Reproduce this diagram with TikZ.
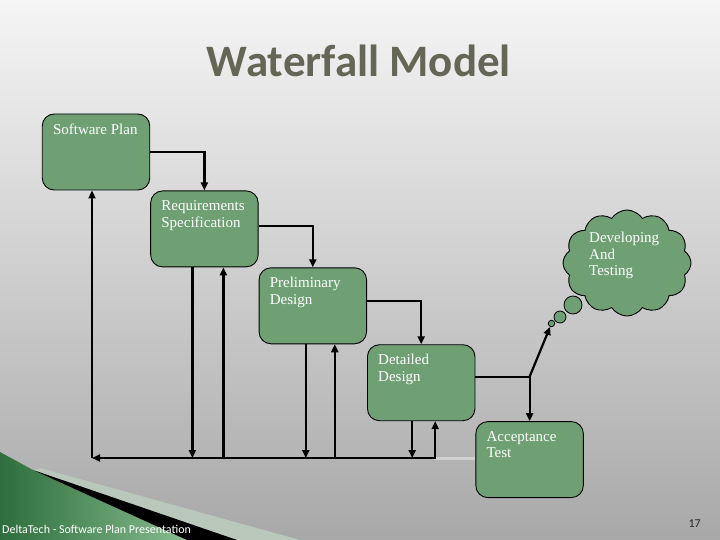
\documentclass[tikz,border=0pt]{standalone}
\usepackage{fontspec}
\setmainfont{Liberation Serif}
\newfontfamily\slidefont{Carlito}
\usetikzlibrary{positioning,calc,shapes.symbols,arrows.meta}
\definecolor{BoxGreen}{RGB}{111,160,116}
\definecolor{TitleGray}{RGB}{102,102,86}
\definecolor{SwooshDark}{RGB}{45,110,60}
\definecolor{SwooshLight}{RGB}{135,188,142}
\definecolor{PaleBand}{RGB}{186,200,188}
\tikzset{
  phase/.style={draw=black,fill=BoxGreen,rounded corners=12pt,line width=0.9pt,
    minimum width=107.5pt,minimum height=76pt,inner sep=0pt},
  phasetext/.style={anchor=north west,text=white,align=left,inner sep=0pt,
    font=\fontsize{15}{16.5}\selectfont},
  bubble/.style={circle,draw=black,fill=BoxGreen,inner sep=0pt,line width=0.8pt},
  flow/.style={draw=black,line width=2.2pt,-{Triangle[length=8pt,width=7pt]}},
  twoway/.style={flow,{Triangle[length=8pt,width=7pt]}-{Triangle[length=8pt,width=7pt]}},
}

\begin{document}
\begin{tikzpicture}[x=1pt,y=-1pt]
  \useasboundingbox (0,0) rectangle (720,540);
  % slide background
  \shade[top color=black!4,bottom color=black!34] (0,0) rectangle (720,540);
  \shade[left color=SwooshDark,right color=SwooshLight]
    (0,452) -- (33,470) -- (187,540) -- (0,540) -- cycle;
  \fill[PaleBand] (33,470) -- (40,468) -- (300,540) -- (237,540) -- cycle;
  \fill[black] (33,470) -- (237,540) -- (187,540) -- cycle;

  \node[font=\slidefont\bfseries\fontsize{45}{50}\selectfont,text=TitleGray,anchor=base]
    (title) at (359,77) {Waterfall Model};

  % phases
  \node[phase] (sp) at (96,152) {};
  \node[phase,below right=0pt and 0pt of sp] (req) {};
  \node[phase,below right=0pt and 0pt of req] (pre) {};
  \node[phase,below right=0pt and 0pt of pre] (det) {};
  \node[phase,below right=0pt and 0pt of det] (acc) {};
  \node[phasetext] (spt) at ([xshift=11pt,yshift=-10pt]sp.north west) {Software Plan};
  \node[phasetext] (reqt) at ([xshift=11pt,yshift=-10pt]req.north west) {Requirements\\Specification};
  \node[phasetext] (pret) at ([xshift=11pt,yshift=-10pt]pre.north west) {Preliminary\\Design};
  \node[phasetext] (dett) at ([xshift=11pt,yshift=-10pt]det.north west) {Detailed\\Design};
  \node[phasetext] (acct) at ([xshift=11pt,yshift=-10pt]acc.north west) {Acceptance\\Test};

  % cloud
  \node[cloud,cloud puffs=12,cloud puff arc=115,aspect=1.2,draw=black,fill=BoxGreen,
    line width=0.9pt,minimum width=128pt,minimum height=106pt] (dev) at (627,263) {};
  \node[bubble,minimum size=18pt] (b1) at (573,305) {};
  \node[bubble,minimum size=12pt] (b2) at (560,317) {};
  \node[bubble,minimum size=6.5pt] (b3) at (551.5,323.5) {};
  \node[phasetext] (devt) at (589,232) {Developing\\And\\Testing};

  % forward flow
  \draw[flow] (sp.east) -| (req.north);
  \draw[flow] ([yshift=3pt]req.east) -| (pre.north);
  \draw[flow] ([yshift=5pt]pre.east) -| (det.north);
  \draw[flow] ([yshift=6pt]det.east) -| (acc.north);
  \coordinate (fork) at ([yshift=6pt]det.east -| acc.north);
  \draw[flow] (fork) -- (b3);

  % feedback
  \coordinate (fb) at (92,458);
  \draw[white!82!black,line width=3pt] ([xshift=14pt]det.south |- fb) -- (fb -| acc.west);
  \draw[flow] ([xshift=-12pt]req.south) -- ([xshift=-12pt]req.south |- fb);
  \draw[flow] ([xshift=19pt]req.south |- fb) -- ([xshift=19pt]req.south);
  \draw[flow] ([xshift=-7pt]pre.south) -- ([xshift=-7pt]pre.south |- fb);
  \draw[flow] ([xshift=22pt]pre.south |- fb) -- ([xshift=22pt]pre.south);
  \draw[flow] ([xshift=-9pt]det.south) -- ([xshift=-9pt]det.south |- fb);
  \draw[twoway] (fb) -| ([xshift=14pt]det.south);
  \draw[flow] (fb) -- (fb |- sp.south);

  \node[font=\slidefont\fontsize{12}{14}\selectfont,text=white,anchor=base west,inner sep=0pt]
    (foot) at (2,533) {DeltaTech - Software Plan Presentation};
  \node[font=\slidefont\fontsize{12}{14}\selectfont,text=black!85,anchor=base east,inner sep=0pt]
    (pnum) at (701,527) {17};
\end{tikzpicture}
\end{document}
